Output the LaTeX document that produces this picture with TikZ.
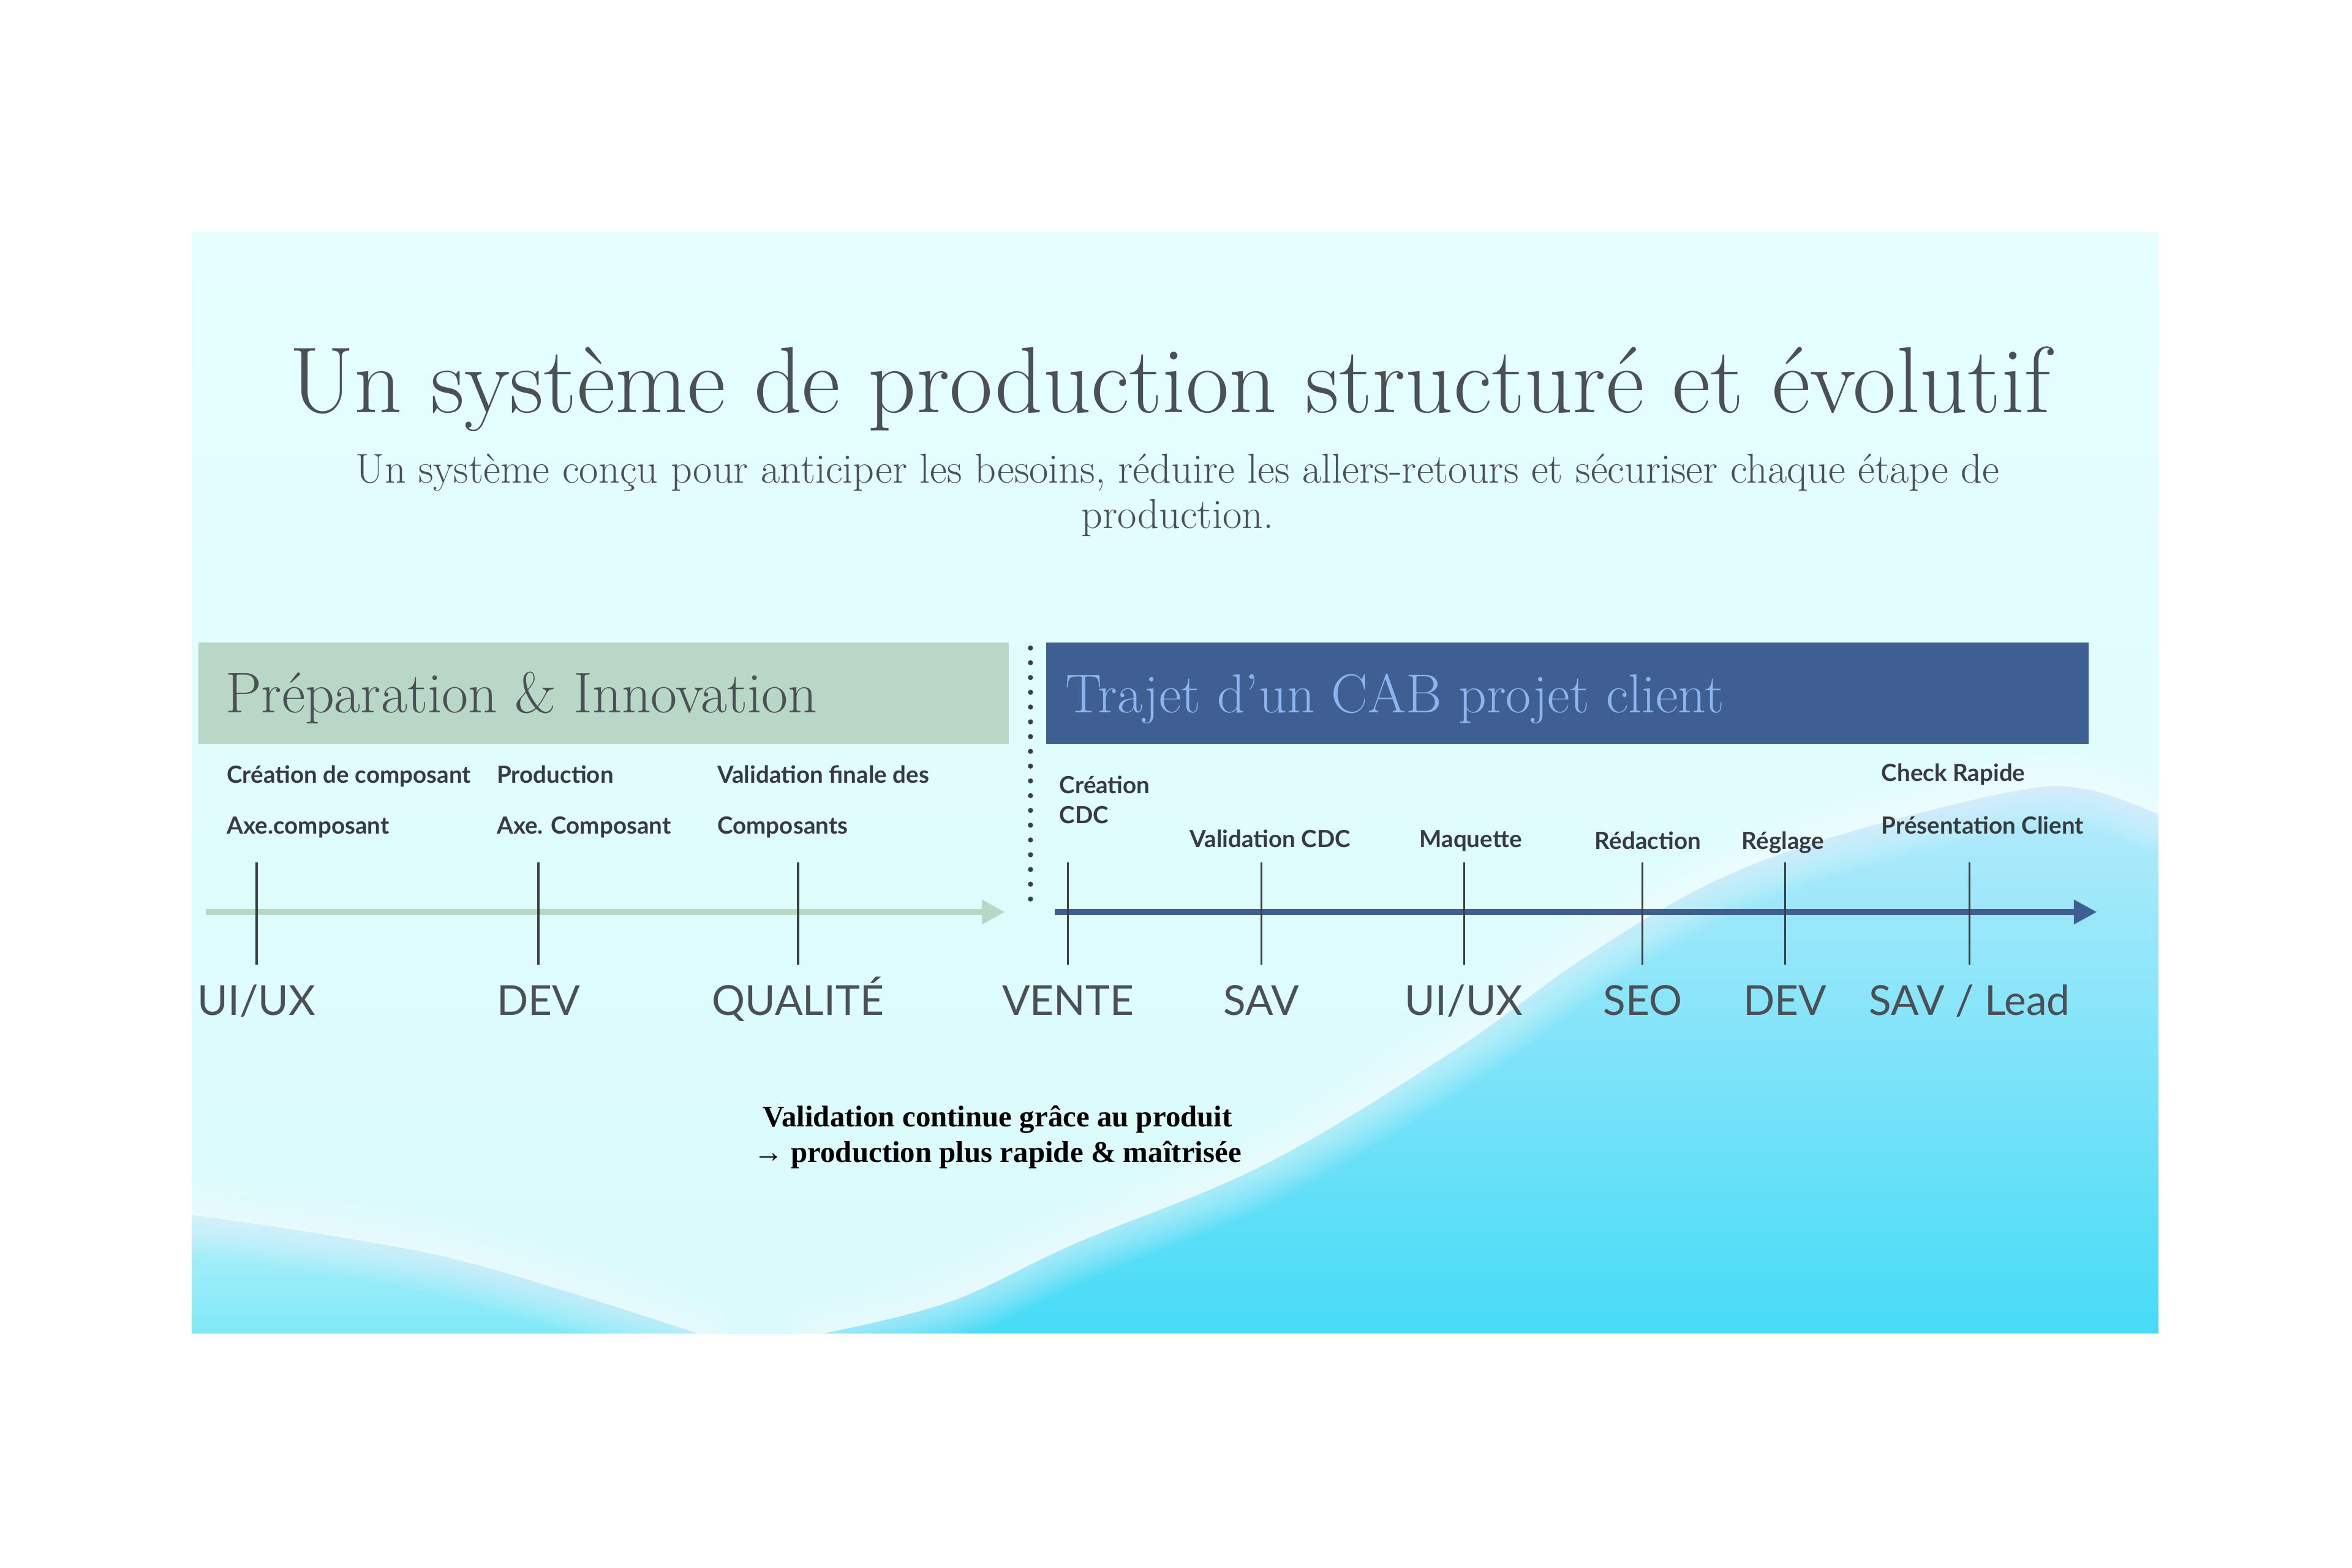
\documentclass[tikz,border=0pt]{standalone}
\usepackage{fontspec}
\newfontfamily\latofont{Lato}
\newfontfamily\timesfont{Liberation Serif}
\usetikzlibrary{arrows.meta}
\definecolor{slidetop}{HTML}{E6FEFE}
\definecolor{slidebot}{HTML}{DAFAFC}
\definecolor{wavetop}{HTML}{B6EBFB}
\definecolor{wavemid}{HTML}{9AE4FA}
\definecolor{wavebot}{HTML}{46DBF7}
\definecolor{waveltop}{HTML}{B4F1FA}
\definecolor{wavelbot}{HTML}{80E8F8}
\definecolor{hdrgreen}{HTML}{B9D7C6}
\definecolor{hdrblue}{HTML}{3F5E91}
\definecolor{hdrbluetxt}{HTML}{8CB5F0}
\definecolor{txtgray}{HTML}{4B5054}
\definecolor{tickc}{HTML}{3A3F44}
\definecolor{stepc}{HTML}{373B40}
\tikzset{
	tl_tick/.style = {draw=tickc, line width=1pt},% trait vertical d'une etape
	tl_phase/.style = {font=\latofont\fontsize{19.6}{22}\selectfont, text=txtgray,
		inner sep=0pt, anchor=base},% nom du pole sous l'axe
	tl_step/.style = {font=\latofont\bfseries\fontsize{11.2}{13}\selectfont, text=stepc,
		inner sep=0pt, anchor=base west},% tache au-dessus de l'axe
	hdr_box/.style = {rectangle, inner sep=0pt, minimum height=1.7cm,
		anchor=north west},% bandeau de titre
	hdr_txt/.style = {inner sep=0pt, anchor=base west},% texte du bandeau
	wave_glow/.style = {white, line cap=round, line join=round, opacity=0.05}% halo clair le long de la vague
}

\begin{document}
\begin{tikzpicture}[x=0.025cm, y=-0.025cm]
	\useasboundingbox (0,0) rectangle (1568,1045.33);
	\fill[white] (0,0) rectangle (1568,1045.33);
	% fond de la diapositive
	\shade[top color=slidetop, bottom color=slidebot] (128,155) rectangle (1439,889);
	\begin{scope}
		\clip (128,155) rectangle (1439,889);
		\shade[top color=wavetop, middle color=wavemid, bottom color=wavebot] plot[smooth, tension=0.6]
			coordinates {(1439,543) (1390,526) (1340,528) (1222,558) (1138,590) (1054,640)
			(970,700) (844,776) (717,829) (633,868) (549,889)} -- (1439,889) -- cycle;
		\shade[top color=waveltop, bottom color=wavelbot] plot[smooth, tension=0.6]
			coordinates {(128,810) (210,822) (297,838) (381,862) (465,889)} -- (128,889) -- cycle;
		\foreach \w in {3,6,...,36} {
			\draw[wave_glow, line width=\w pt] plot[smooth, tension=0.6]
				coordinates {(1439,543) (1390,526) (1340,528) (1222,558) (1138,590) (1054,640)
				(970,700) (844,776) (717,829) (633,868) (549,889)};
			\draw[wave_glow, line width=\w pt] plot[smooth, tension=0.6]
				coordinates {(128,810) (210,822) (297,838) (381,862) (465,889)};
		}
	\end{scope}

	% titres
	\node[font=\fontsize{44.5}{52}\selectfont, text=txtgray, inner sep=0pt, anchor=base]
		(title) at (780,275) {Un système de production structuré et évolutif};
	\node[font=\fontsize{19.8}{24}\selectfont, text=txtgray, inner sep=0pt, anchor=base]
		(sub1) at (785,322) {Un système conçu pour anticiper les besoins, réduire les allers-retours et sécuriser chaque étape de};
	\node[font=\fontsize{19.8}{24}\selectfont, text=txtgray, inner sep=0pt, anchor=base]
		(sub2) at (785,352) {production.};

	% bandeaux
	\node[hdr_box, fill=hdrgreen, minimum width=13.5cm] (prep) at (132,428) {};
	\node[hdr_txt, font=\fontsize{27.2}{30}\selectfont, text=txtgray] (prep_t) at (150,475) {Préparation \& Innovation};
	\node[hdr_box, fill=hdrblue, minimum width=17.375cm] (cab) at (697,428) {};
	\node[hdr_txt, font=\fontsize{26}{30}\selectfont, text=hdrbluetxt] (cab_t) at (710,475) {Trajet d’un CAB projet client};

	% separation
	\coordinate (sep_a) at (687,432);
	\coordinate (sep_b) at (687,602);
	\draw[tickc, line width=2.4pt, line cap=round, dash pattern=on 0pt off 7pt] (sep_a) -- (sep_b);

	% axes
	\coordinate (g_start) at (137,608);
	\coordinate (g_end) at (670,608);
	\coordinate (b_start) at (703,608);
	\coordinate (b_end) at (1398,608);
	\draw[hdrgreen, line width=3pt, -{Triangle[length=11pt,width=11pt]}] (g_start) -- (g_end);
	\draw[hdrblue, line width=3pt, -{Triangle[length=11pt,width=11pt]}] (b_start) -- (b_end);

	% etapes
	\foreach \x/\lbl [count=\i] in {171/{UI/UX}, 359/DEV, 532/QUALITÉ, 712/VENTE, 841/SAV,
		976/{UI/UX}, 1095/SEO, 1190/DEV, 1313/{SAV / Lead}} {
		\coordinate (tk\i a) at (\x,575);
		\coordinate (tk\i b) at (\x,643);
		\draw[tl_tick] (tk\i a) -- (tk\i b);
		\node[tl_phase] (ph\i) at (\x,677) {\lbl};
	}

	% taches
	\node[tl_step] (s1a) at (151,522) {Création de composant};
	\node[tl_step] (s1b) at (151,556) {Axe.composant};
	\node[tl_step] (s2a) at (331,522) {Production};
	\node[tl_step] (s2b) at (331,556) {Axe. Composant};
	\node[tl_step] (s3a) at (478,522) {Validation finale des};
	\node[tl_step] (s3b) at (478,556) {Composants};
	\node[tl_step] (s4a) at (706,529) {Création};
	\node[tl_step] (s4b) at (706,549) {CDC};
	\node[tl_step] (s5) at (793,565) {Validation CDC};
	\node[tl_step] (s6) at (946,565) {Maquette};
	\node[tl_step] (s7) at (1063,566) {Rédaction};
	\node[tl_step] (s8) at (1161,566) {Réglage};
	\node[tl_step] (s9a) at (1254,521) {Check Rapide};
	\node[tl_step] (s9b) at (1254,556) {Présentation Client};

	% conclusion
	\node[font=\timesfont\bfseries\fontsize{14.2}{17}\selectfont, inner sep=0pt, anchor=base]
		(concl1) at (665,751) {Validation continue grâce au produit};
	\node[font=\timesfont\bfseries\fontsize{14.2}{17}\selectfont, inner sep=0pt, anchor=base]
		(concl2) at (665,775) {→ production plus rapide \& maîtrisée};
\end{tikzpicture}
\end{document}
